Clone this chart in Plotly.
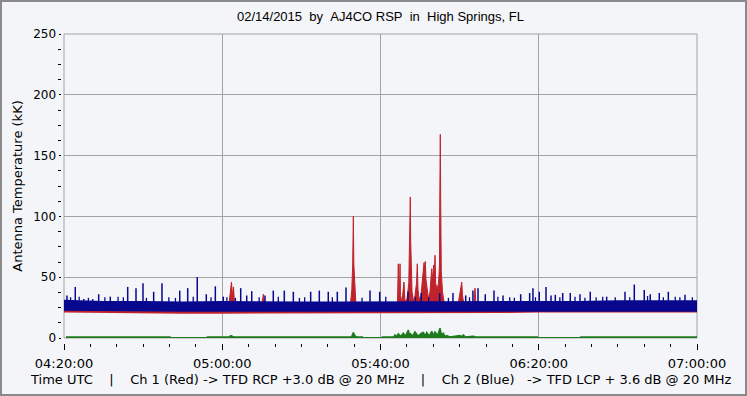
import plotly.graph_objects as go
import pandas as pd

DAY = "2015-02-14 "
NB = "\u00a0"

# ---------------- data ----------------
title_text = f"02/14/2015{NB*2}by{NB*2}AJ4CO RSP{NB*2}in{NB*2}High Springs, FL"
y_title = "Antenna Temperature (kK)"
footer = (f"Time UTC{NB*4}|{NB*4}Ch 1 (Red) -> TFD RCP +3.0 dB @ 20 MHz"
          f"{NB*4}|{NB*4}Ch 2 (Blue){NB*3}-> TFD LCP + 3.6 dB @ 20 MHz")

x_start = "04:20:00"
x_end = "07:00:00"
y_range = [0, 250]

# noise band envelopes (10-minute samples)
band_t = ["04:20:00", "04:30:00", "04:40:00", "04:50:00", "05:00:00", "05:10:00",
          "05:20:00", "05:30:00", "05:40:00", "05:50:00", "06:00:00", "06:10:00",
          "06:20:00", "06:30:00", "06:40:00", "06:50:00", "07:00:00"]
blue_hi = [31.5, 30.5, 30.5, 30, 30.5, 30, 30, 30, 30, 30, 30, 30, 30.5, 30.5, 31, 31, 31]
blue_lo = [22.5, 22, 21.5, 21.5, 21.5, 21.5, 21.5, 21.5, 21.5, 21.5, 21.5, 21.5, 21.5, 21.5, 21.5, 21.5, 21.5]
red_lo = [21, 20.5, 20, 20, 20, 20, 20.5, 20.5, 20.5, 20.5, 20.5, 20.5, 21, 21, 21, 21, 21]
band_core = 27

# Ch 2 (blue) isolated spikes
blue_spike_t = ["04:20:45", "04:22:51", "04:25:00", "04:27:15", "04:28:46", "04:31:42", "04:36:06",
                "04:38:12", "04:39:58", "04:42:40", "04:44:46", "04:49:15", "04:51:16", "04:53:41",
                "04:55:58", "04:58:15", "05:00:16", "05:04:40", "05:06:11", "05:07:27", "05:10:48",
                "05:12:54", "05:15:41", "05:17:58", "05:22:21", "05:24:32", "05:26:48", "05:29:05",
                "05:31:17", "05:37:21", "05:39:48", "05:46:57", "05:50:18", "05:54:58", "05:58:19",
                "06:01:32", "06:03:22", "06:04:39", "06:06:29", "06:08:41", "06:10:58", "06:15:26",
                "06:17:42", "06:18:32", "06:20:08", "06:21:50", "06:23:06", "06:24:11", "06:26:03",
                "06:27:58", "06:30:25", "06:33:01", "06:37:10", "06:41:48", "06:44:09", "06:46:40",
                "06:48:11", "06:50:28", "06:52:45", "06:56:58"]
blue_spike_v = [35, 42, 32, 32, 36, 34, 42, 41, 45, 38,
                45, 39, 41, 50, 36, 42.5, 34, 41, 35, 38.5,
                35, 39, 39, 38, 38, 39, 38, 38, 41.5, 39,
                38, 38, 37, 37, 37, 35, 39, 41, 36, 39,
                35, 36, 37, 41, 38, 42, 35, 35.5, 37, 37,
                36, 38, 34, 38, 44, 39.5, 36, 37, 38, 35.5]

# smaller blips on top of the noise band
blip_t = ["04:21:40", "04:23:50", "04:26:10", "04:30:20", "04:33:40", "04:35:00", "04:40:50",
          "04:46:30", "04:48:10", "04:52:40", "04:57:10", "05:01:10", "05:03:20", "05:09:20",
          "05:14:10", "05:19:30", "05:20:50", "05:27:50", "05:35:20", "05:41:20", "05:48:50",
          "05:52:10", "05:57:10", "06:02:30", "06:09:40", "06:12:40", "06:13:50", "06:19:10",
          "06:25:20", "06:29:10", "06:31:40", "06:34:30", "06:36:10", "06:39:20", "06:43:00",
          "06:47:30", "06:51:30", "06:54:30", "06:55:40", "06:58:50"]
blip_v = [33.5, 34, 33, 33.5, 34, 33.5, 33, 33.5, 33, 34,
          33.5, 33.5, 33, 33.5, 34, 33, 33.5, 33.5, 33, 34,
          33.5, 33.5, 33, 33.5, 34, 33.5, 33, 33.5, 33.5, 34,
          33, 33.5, 34, 33.5, 33.5, 34.5, 33.5, 34, 33.5, 33.5]

# Ch 1 (red) burst profiles (None separates events)
red_t = ["05:01:42", "05:02:05", "05:02:20", "05:02:35", "05:02:51", "05:03:06", None,
         "05:10:03", "05:10:23", "05:10:41", None,
         "05:32:25", "05:32:45", "05:32:58", "05:33:08", "05:33:16", "05:33:28", "05:33:45", "05:34:05", None,
         "05:43:40", "05:44:18", "05:44:30", "05:44:38", "05:44:48", "05:44:56", "05:45:03", "05:45:26",
         "05:45:56", "05:46:12", "05:46:42", "05:47:09", "05:47:17", "05:47:27", "05:47:32", "05:47:38",
         "05:47:47", "05:47:58", "05:48:21", "05:48:43", "05:49:06", "05:49:18", "05:49:29", "05:49:44",
         "05:50:14", "05:50:37", "05:51:00", "05:51:10", "05:51:20", "05:51:30", "05:51:45", "05:52:08",
         "05:52:31", "05:52:46", "05:52:57", "05:53:09", "05:53:27", "05:53:39", "05:53:47", "05:53:57",
         "05:54:17", "05:54:40", "05:54:55", "05:54:58", "05:55:07", "05:55:14", "05:55:22", "05:55:40",
         "05:56:03", "05:56:49", None,
         "05:59:35", "06:00:06", "06:00:32", "06:00:44", "06:01:06", None,
         "06:03:38", "06:03:53", "06:04:08"]
red_v = [28, 40, 46, 35, 42, 28, None,
         28, 36, 28, None,
         28, 40, 60, 100, 60, 45, 30, 27, None,
         26, 30, 61, 35, 38, 61, 35, 30,
         46, 30, 32, 45, 78, 100, 116, 80,
         50, 38, 30, 35, 45, 61, 40, 32,
         35, 50, 62, 55, 63, 48, 40, 32,
         38, 50, 57, 48, 60, 55, 68, 45,
         40, 45, 60, 105, 167.5, 105, 55, 38,
         30, 27, None,
         27, 38, 46, 35, 27, None,
         27, 41, 27]

# green trace near zero (None = gap)
green_t = ["04:20:30", "04:46:58", None,
           "04:56:04", "05:01:40", "05:02:10", "05:02:30", "05:02:50", "05:32:40", "05:33:08",
           "05:33:30", "05:34:00", "05:35:35", None,
           "05:40:18", "05:43:20", "05:43:40", "05:44:05", "05:44:30", "05:45:05", "05:45:46",
           "05:46:20", "05:47:02", "05:47:15", "05:47:27", "05:48:05", "05:48:43", "05:49:30",
           "05:50:25", "05:50:37", "05:50:49", "05:51:15", "05:51:41", "05:52:20", "05:52:57",
           "05:53:20", "05:53:47", "05:54:25", "05:55:02", "05:55:25", "05:55:52", "05:56:20",
           "05:56:44", "05:57:30", "06:00:06", "06:00:30", "06:00:56", "06:01:30", "06:03:27",
           "06:04:00", "06:19:49", None,
           "06:30:26", "07:00:00"]
green_v = [0.8, 0.8, None,
           0.8, 0.8, 2, 1.5, 0.8, 0.8, 4.5,
           2, 0.8, 0.8, None,
           0.8, 0.8, 2.5, 1.2, 3.5, 1.2, 4,
           1.5, 6.6, 2, 4, 1.5, 5, 1.5,
           4, 2, 5, 1.5, 4.5, 1.5, 5.5,
           2, 5, 2, 8, 2.5, 4, 1.2,
           2, 0.8, 2, 1, 2.5, 0.8, 1.5,
           0.8, 0.8, None,
           0.8, 0.8]

RED = "#c0222c"
BLUE = "#08088f"
GREEN = "#1d7a1d"
GRID = "#a3a3a3"
BG = "#f4f5f8"


def T(s):
    return None if s is None else pd.Timestamp(DAY + s)


def spikes(ts, vs, base):
    xs, ys = [], []
    for t, v in zip(ts, vs):
        xs += [T(t), T(t), None]
        ys += [base, v, None]
    return xs, ys


bt = [T(s) for s in band_t]

fig = go.Figure()

# red noise band (underneath)
fig.add_trace(go.Scatter(x=bt, y=red_lo, mode="lines", line=dict(width=0), showlegend=False, hoverinfo="skip"))
fig.add_trace(go.Scatter(x=bt, y=[band_core] * len(bt), mode="lines", line=dict(width=0),
                         fill="tonexty", fillcolor=RED, showlegend=False, hoverinfo="skip"))

# red bursts
fig.add_trace(go.Scatter(x=[T(s) for s in red_t], y=red_v, mode="lines",
                         line=dict(color=RED, width=1), fill="toself", fillcolor=RED,
                         showlegend=False, connectgaps=False))

# blue noise band
fig.add_trace(go.Scatter(x=bt, y=blue_lo, mode="lines", line=dict(width=0), showlegend=False, hoverinfo="skip"))
fig.add_trace(go.Scatter(x=bt, y=blue_hi, mode="lines", line=dict(width=0),
                         fill="tonexty", fillcolor=BLUE, showlegend=False, hoverinfo="skip"))

# blue blips and spikes
bx, by = spikes(blip_t, blip_v, band_core)
fig.add_trace(go.Scatter(x=bx, y=by, mode="lines", line=dict(color=BLUE, width=1.3), showlegend=False))
sx, sy = spikes(blue_spike_t, blue_spike_v, band_core)
fig.add_trace(go.Scatter(x=sx, y=sy, mode="lines", line=dict(color=BLUE, width=1.5), showlegend=False))

# green
fig.add_trace(go.Scatter(x=[T(s) for s in green_t], y=green_v, mode="lines",
                         line=dict(color=GREEN, width=1.5), fill="tozeroy", fillcolor=GREEN,
                         showlegend=False, connectgaps=False))

# ---------------- layout ----------------
W, H = 747, 396
ML, MR, MT, MB = 50, 50, 34, 47
PW, PH = W - ML - MR, H - MT - MB


def px_x(p):
    return (p - ML) / PW


def px_y(p):
    return (H - MB - p) / PH


dx0 = px_x(64)
dy0 = px_y(338)

fig.update_layout(
    width=W, height=H,
    margin=dict(l=ML, r=MR, t=MT, b=MB),
    paper_bgcolor=BG, plot_bgcolor=BG,
    font=dict(family="DejaVu Sans", size=12, color="#000"),
    showlegend=False,
    xaxis=dict(
        type="date", range=[T(x_start), T(x_end)], domain=[dx0, 1],
        anchor="free", position=px_y(342.5),
        showline=False, zeroline=False,
        tickmode="linear", tick0=T(x_start), dtick=2400000,
        tickformat="%H:%M:%S", ticks="outside", ticklen=6, tickwidth=1, tickcolor="#000",
        tickfont=dict(size=13), ticklabelstandoff=3,
        showgrid=True, gridcolor=GRID, gridwidth=1,
        minor=dict(tick0=T(x_start), dtick=400000, ticks="outside", ticklen=3,
                   tickcolor="#000", showgrid=False),
    ),
    yaxis=dict(
        range=y_range, domain=[dy0, 1], anchor="free", position=px_x(60.5),
        showline=False, zeroline=False,
        tick0=0, dtick=50, ticks="outside", ticklen=2, tickcolor="#000",
        tickfont=dict(size=12),
        showgrid=True, gridcolor=GRID, gridwidth=1,
        minor=dict(dtick=12.5, ticks="outside", ticklen=3, tickcolor="#000", showgrid=False),
        title=dict(text=y_title, font=dict(size=13), standoff=6),
    ),
    shapes=[
        dict(type="rect", xref="paper", yref="paper", x0=dx0, x1=1, y0=dy0, y1=1,
             line=dict(color=GRID, width=1), layer="below"),
        dict(type="rect", xref="paper", yref="paper", x0=px_x(1), x1=px_x(746), y0=px_y(395), y1=px_y(1),
             line=dict(color="#8a8a8a", width=2), layer="above"),
    ],
    annotations=[
        dict(text=title_text, xref="paper", yref="paper", x=px_x(380.5), y=px_y(17),
             showarrow=False, xanchor="center", yanchor="middle",
             font=dict(family="Liberation Sans", size=13)),
        dict(text=footer, xref="paper", yref="paper", x=px_x(380.5), y=px_y(379.5),
             showarrow=False, xanchor="center", yanchor="middle",
             font=dict(family="DejaVu Sans", size=13)),
    ],
)

fig.write_html("out.html", config={"displayModeBar": False},
               post_script="document.body.style.margin='0';document.body.style.background='%s';" % BG)
